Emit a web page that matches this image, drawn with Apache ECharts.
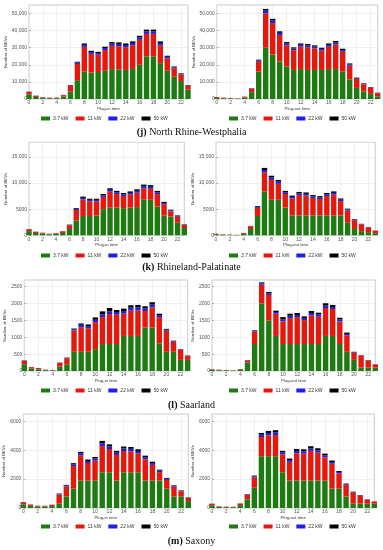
<!DOCTYPE html>
<html><head><meta charset="utf-8">
<script src="https://cdn.jsdelivr.net/npm/echarts@6/dist/echarts.min.js"></script>
<style>html,body{margin:0;padding:0;background:#fff}#c{width:383px;height:550px}</style>
</head><body><div id="c"></div>
<script>
const hours = [0,1,2,3,4,5,6,7,8,9,10,11,12,13,14,15,16,17,18,19,20,21,22,23];
const seriesNames = ['3.7 kW','11 kW','22 kW','50 kW'];
const xNames = ['Plug-in time','Plug-out time'];
const captionTags = ['(j)','(k)','(l)','(m)'];
const captionNames = ['North Rhine-Westphalia','Rhineland-Palatinate','Saarland','Saxony'];

// North Rhine-Westphalia
const nrwIn37 = [2600,1200,600,500,500,1400,4300,11000,16000,15500,15800,16500,17500,17200,17000,17500,20000,25000,25000,21000,16500,13000,10500,5500];
const nrwIn11 = [1450,670,330,250,250,820,3400,9500,14500,10900,10100,12100,13600,13700,13300,14000,14600,13100,13100,10500,7300,5000,3800,2200];
const nrwIn22 = [150,80,40,30,30,100,300,800,1200,1100,1000,1200,1300,1300,1300,1300,1400,1500,1500,1300,900,600,500,300];
const nrwIn50 = [100,50,30,20,20,80,200,500,800,700,700,800,900,900,900,900,1000,1000,1000,900,600,400,300,200];
const nrwOut37 = [700,450,350,250,800,4000,16000,30000,26000,22000,19000,17000,17500,17000,17000,17000,17500,17500,16000,11500,6500,4500,3000,1500];
const nrwOut11 = [430,300,215,125,520,1950,5800,20100,18400,15400,12400,11500,13100,13300,12600,11300,13100,14300,11600,8000,5200,4100,3500,1900];
const nrwOut22 = [40,30,20,15,50,200,700,1600,1500,1300,1100,1000,1100,1100,1100,1000,1100,1200,1000,700,400,300,250,150];
const nrwOut50 = [30,20,15,10,30,150,500,1000,1000,900,800,700,800,800,700,700,800,900,800,600,400,300,250,150];
// Rhineland-Palatinate
const rlpIn37 = [800,450,300,200,250,450,1200,2800,3700,3700,3800,5000,5300,5300,5200,5300,5400,6800,6800,5500,3800,3600,2400,1400];
const rlpIn11 = [330,205,175,80,125,300,710,2050,3150,2800,2700,2350,3050,2590,2320,2490,2750,2200,2100,2390,2150,970,1150,560];
const rlpIn22 = [40,25,15,10,15,30,80,200,300,280,280,300,350,330,320,330,350,380,380,330,250,180,140,80];
const rlpIn50 = [30,20,10,10,10,20,60,150,250,220,220,250,300,280,260,280,300,320,320,280,200,150,110,60];
const rlpOut37 = [180,120,80,60,280,1200,3700,8400,6800,6800,5300,3800,3800,3800,3800,3800,3800,3800,3800,2400,1200,800,600,400];
const rlpOut11 = [100,66,41,33,145,500,1550,3600,3800,3050,2600,3250,3900,3800,3350,3150,3700,3980,2740,2340,1680,1250,890,435];
const rlpOut22 = [10,8,5,4,15,60,200,500,450,420,330,300,330,330,300,300,330,340,280,200,120,80,60,35];
const rlpOut50 = [10,6,4,3,10,40,150,400,350,330,270,250,270,270,250,250,270,280,230,160,100,70,50,30];
// Saarland
const saIn37 = [200,70,50,25,20,130,200,570,570,570,650,800,800,800,1040,1040,1040,1290,1290,820,570,570,330,330];
const saIn11 = [102,43,35,13,8,107,180,630,730,700,800,800,890,870,660,750,760,490,600,780,625,295,295,112];
const saIn22 = [8,4,3,1,1,8,12,40,70,60,70,80,80,80,80,90,90,80,80,60,30,20,15,10];
const saIn50 = [5,3,2,1,1,5,8,20,40,50,70,90,100,60,70,70,70,60,70,40,25,15,10,8];
const saOut37 = [30,25,20,12,40,250,800,2000,1500,1040,800,800,800,800,800,800,1040,1040,800,570,330,100,100,100];
const saOut11 = [16,13,8,6,16,62,370,560,755,660,670,770,800,710,850,810,830,800,670,490,210,348,210,90];
const saOut22 = [2,1,1,1,2,8,25,40,50,50,60,70,60,60,70,70,70,60,60,40,15,12,8,5];
const saOut50 = [2,1,1,1,2,5,15,30,40,40,70,60,60,50,60,50,70,60,50,40,15,10,7,5];
// Saxony
const snIn37 = [250,150,100,100,130,300,800,1340,1900,1900,1900,2470,2470,1900,2470,2470,2470,1900,1900,1900,1340,800,800,480];
const snIn11 = [140,84,50,50,86,635,680,1560,1720,1210,1370,1810,1610,1770,1470,1440,1300,1460,1080,580,600,670,350,220];
const snIn22 = [15,10,6,6,8,40,70,120,150,140,150,200,180,160,180,180,170,150,130,100,80,60,40,25];
const snIn50 = [10,6,4,4,6,25,50,80,110,100,110,160,140,120,130,130,120,110,90,70,60,40,30,15];
const snOut37 = [180,70,55,55,200,600,1400,3580,3580,3580,2470,1900,1900,1900,1900,1900,1900,1340,1340,800,300,300,300,300];
const snOut11 = [106,38,30,30,102,320,720,1330,1440,1470,1230,1290,1880,1860,2050,1930,1590,1720,1060,780,760,545,265,135];
const snOut22 = [8,4,3,3,10,30,70,160,170,180,140,130,160,160,170,160,150,120,90,60,40,30,20,15];
const snOut50 = [6,3,2,2,8,20,50,120,140,150,110,100,140,140,150,140,120,100,70,50,30,25,15,10];

const yMax = [55000,55000,17800,17800,2700,2700,6500,6500];
const yStep = [10000,10000,5000,5000,500,500,2000,2000];

const panels = [
  [nrwIn37,nrwIn11,nrwIn22,nrwIn50],[nrwOut37,nrwOut11,nrwOut22,nrwOut50],
  [rlpIn37,rlpIn11,rlpIn22,rlpIn50],[rlpOut37,rlpOut11,rlpOut22,rlpOut50],
  [saIn37,saIn11,saIn22,saIn50],[saOut37,saOut11,saOut22,saOut50],
  [snIn37,snIn11,snIn22,snIn50],[snOut37,snOut11,snOut22,snOut50]
];

const colors = ['#1e7b12','#e3190d','#1f1fe6','#000000'];
const FONT = 'Liberation Sans';
const grids = [
  {left:29, top:5, width:159, height:94},
  {left:216.7, top:5, width:161, height:94},
  {left:29, top:142.3, width:155.3, height:93},
  {left:216, top:142.3, width:159.3, height:93},
  {left:24.3, top:280, width:163.4, height:91},
  {left:212, top:280, width:163.3, height:91},
  {left:23.3, top:414, width:165, height:94},
  {left:212, top:414, width:162.3, height:94}
];
const nameGapY = [20.5,19.5,20.5,19.5,16,15,16,15];
const legendTops = [116,253,388,524];
const captionY = [133,268,406,542];

const xAxis = grids.map((g,i)=>({
  gridIndex:i, type:'category', boundaryGap:false, data:hours.map(String),
  name:xNames[i%2], nameLocation:'middle', nameGap:6.5,
  nameTextStyle:{fontFamily:FONT,fontSize:4.3,color:'#333'},
  axisLine:{show:false},
  axisTick:{show:true,inside:true,length:2,interval:1,lineStyle:{color:'#777',width:0.5}},
  axisLabel:{fontFamily:FONT,fontSize:5,color:'#555',margin:1.5,interval:1},
  splitLine:{show:true,interval:1,lineStyle:{color:'#e2e2e2',width:0.5}}
}));
const yAxis = grids.map((g,i)=>({
  gridIndex:i, type:'value', min:0, max:yMax[i], interval:yStep[i],
  name:'Number of BEVs', nameLocation:'middle', nameGap:nameGapY[i],
  nameTextStyle:{fontFamily:FONT,fontSize:4.3,color:'#333'},
  axisLine:{show:false},
  axisTick:{show:true,inside:true,length:2,lineStyle:{color:'#777',width:0.5}},
  axisLabel:{fontFamily:FONT,fontSize:5,color:'#555',margin:2,showMaxLabel:false,
    formatter:v=>v>=10000?v.toLocaleString('en-US'):String(v)},
  splitLine:{show:true,lineStyle:{color:'#e2e2e2',width:0.5}}
}));
const series = [];
panels.forEach((p,i)=>{
  p.forEach((vals,k)=>{
    series.push({
      type:'bar', name:seriesNames[k], xAxisIndex:i, yAxisIndex:i, stack:'s'+i,
      barWidth:5.4, clip:true, silent:true,
      itemStyle:{color:colors[k]},
      data:vals.slice()
    });
  });
});
const legend = [];
legendTops.forEach((t,r)=>{
  [41,229].forEach(l=>{
    legend.push({left:l, top:t, padding:0, itemGap:7, itemWidth:9, itemHeight:4,
      icon:'rect', selectedMode:false, data:seriesNames,
      textStyle:{fontFamily:FONT,fontSize:5,color:'#333',padding:[0,0,0,-2]}});
  });
});
const title = captionNames.map((n,i)=>({
  text:'{b|'+captionTags[i]+'} '+n, left:'center', top:captionY[i]-6, padding:0,
  textStyle:{fontFamily:'Liberation Serif',fontSize:10,fontWeight:'normal',color:'#111',
    rich:{b:{fontFamily:'Liberation Serif',fontSize:10,fontWeight:'bold',color:'#111'}}}
}));
const chart = echarts.init(document.getElementById('c'),null,{renderer:'canvas'});
chart.setOption({
  animation:false, backgroundColor:'#fff',
  title, legend,
  grid:grids.map(g=>Object.assign({show:true,borderColor:'#aaa',borderWidth:0.6,containLabel:false},g)),
  xAxis, yAxis, series
});
</script></body></html>
